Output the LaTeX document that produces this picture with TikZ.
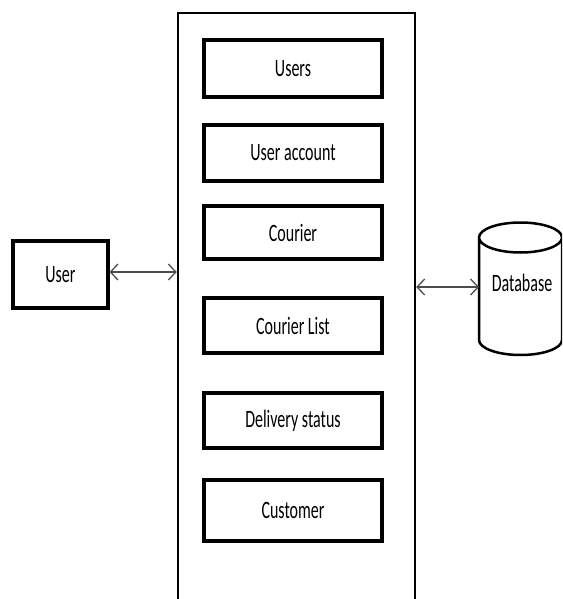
\documentclass[tikz,border=0pt]{standalone}
\usepackage{fontspec}
\setmainfont{Carlito}
\usetikzlibrary{arrows.meta}
\begin{document}
\begin{tikzpicture}[x=1pt,y=-1pt,
  lbl/.style={font=\fontsize{25}{28}\selectfont, text=black},
  modbox/.style={draw, line width=3.2pt, minimum width=178pt, minimum height=#1, inner sep=0pt, lbl},
  link/.style={draw=black!70, line width=1.4pt, {Straight Barb[length=7.5pt,width=16pt,line width=1.3pt]}-{Straight Barb[length=7.5pt,width=16pt,line width=1.3pt]}}
]
\useasboundingbox (0,0) rectangle (562,599);
\clip (0,0) rectangle (562,599);
\newcommand{\sq}[1]{\scalebox{0.64}[1]{#1}}
% system frame, open below the picture
\node[draw, line width=2.5pt, minimum width=237pt, minimum height=640pt, inner sep=0pt] (sys) at (296.5,333) {};
% modules
\node[modbox=57pt] (users) at (293,68.5) {\sq{Users}};
\node[modbox=56pt] (acct) at (293,153) {\sq{User account}};
\node[modbox=53pt] (courier) at (293,232.5) {\sq{Courier}};
\node[modbox=55pt] (clist) at (293,325.5) {\sq{Courier List}};
\node[modbox=55pt] (status) at (293,420.5) {\sq{Delivery status}};
\node[modbox=61pt] (cust) at (293,510.5) {\sq{Customer}};
% user
\node[draw, line width=3.2pt, minimum width=95pt, minimum height=67pt, inner sep=0pt, lbl] (user) at (60.5,274.5) {\sq{User}};
% database cylinder
\draw[line width=2.5pt, fill=white] (479,237.5) -- (479,340) arc[start angle=180, end angle=360, x radius=41.5, y radius=-15] -- (562,237.5) arc[start angle=0, end angle=360, x radius=41.5, y radius=-15];
\node[lbl] (db) at (522,283) {\sq{Database}};
\coordinate (dbw) at (479,287);
% connectors
\draw[link] (user.east |- 0,272) coordinate (ue) -- (sys.west |- ue);
\draw[link] (sys.east |- dbw) -- (dbw);
\end{tikzpicture}
\end{document}
